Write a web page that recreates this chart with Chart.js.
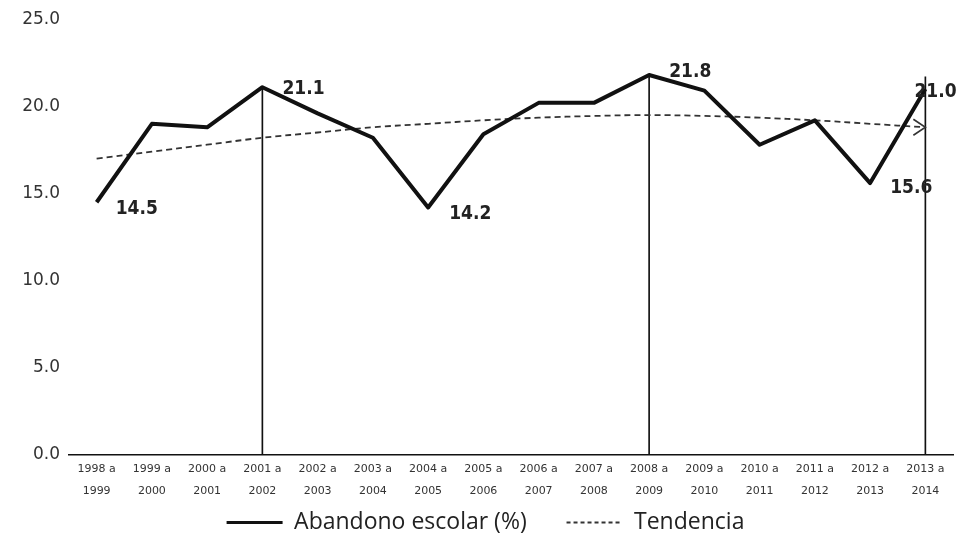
<!DOCTYPE html>
<html><head><meta charset="utf-8">
<script src="https://cdn.jsdelivr.net/npm/chart.js@4.4.1/dist/chart.umd.min.js"></script>
<style>html,body{margin:0;padding:0;background:#fff}#wrap{width:967px;height:534px}</style>
</head><body><div id="wrap"><canvas id="c" width="967" height="534"></canvas></div>
<script>
const categories = [['1998 a','1999'],['1999 a','2000'],['2000 a','2001'],['2001 a','2002'],['2002 a','2003'],['2003 a','2004'],['2004 a','2005'],['2005 a','2006'],['2006 a','2007'],['2007 a','2008'],['2008 a','2009'],['2009 a','2010'],['2010 a','2011'],['2011 a','2012'],['2012 a','2013'],['2013 a','2014']];
const abandono = [14.5,19.0,18.8,21.1,19.6,18.2,14.2,18.4,20.2,20.2,21.8,20.9,17.8,19.2,15.6,21.0];
const tendencia = [17.0,17.4,17.8,18.2,18.5,18.8,19.0,19.2,19.35,19.45,19.5,19.45,19.35,19.2,19.0,18.8];
const guideLines = [null,null,null,21.1,null,null,null,null,null,null,21.8,null,null,null,null,21.7];
const pointLabels = {0:'14.5',3:'21.1',6:'14.2',10:'21.8',14:'15.6',15:'21.0'};
const yTicks = [0,5,10,15,20,25];
const seriesNames = ['Abandono escolar (%)','Tendencia'];

const labelPlugin = {
  id:'labels',
  afterLayout(chart){
    const lg = chart.legend;
    if(lg){ lg.left += 9; lg.right += 9; lg.top += 2; lg.bottom += 2; }
  },
  afterDatasetsDraw(chart){
    const ctx = chart.ctx;
    const meta = chart.getDatasetMeta(1);
    ctx.save();
    ctx.fillStyle = '#222';
    ctx.font = 'bold 19px "DejaVu Sans Condensed", "DejaVu Sans", sans-serif';
    ctx.textBaseline = 'middle';
    const off = {0:[19,7],3:[20,2],6:[21,7],10:[20,-3],14:[20,5],15:[-11,3]};
    Object.keys(pointLabels).forEach(k=>{
      const p = meta.data[k];
      ctx.fillText(pointLabels[k], p.x+off[k][0], p.y+off[k][1]);
    });
    const tm = chart.getDatasetMeta(2);
    const last = tm.data[tm.data.length-1];
    ctx.strokeStyle='#333'; ctx.lineWidth=1.6;
    ctx.beginPath();
    ctx.moveTo(last.x-12,last.y-8); ctx.lineTo(last.x,last.y); ctx.lineTo(last.x-12,last.y+8);
    ctx.stroke();
    ctx.restore();
  }
};

new Chart(document.getElementById('c'),{
  data:{
    labels:categories,
    datasets:[
      {type:'bar',label:'guide',data:guideLines,backgroundColor:'#111',barThickness:1,order:3},
      {type:'line',label:seriesNames[0],data:abandono,borderColor:'#111',borderWidth:4,pointRadius:0,tension:0,borderJoinStyle:'round',order:1},
      {type:'line',label:seriesNames[1],data:tendencia,borderColor:'#333',borderWidth:1.8,borderDash:[6,4],pointRadius:0,tension:0.4,order:2}
    ]
  },
  options:{
    responsive:false,animation:false,
    layout:{padding:{top:17,right:14,left:0,bottom:-8}},
    plugins:{
      tooltip:{enabled:false},
      legend:{position:'bottom',
        labels:{usePointStyle:true,pointStyle:'line',pointStyleWidth:56,
          color:'#222',font:{family:'"Open Sans", sans-serif',size:23},padding:4,
          generateLabels(chart){
            const ds=chart.data.datasets;
            return [1,2].map(i=>({text:i===1?ds[i].label+'      ':ds[i].label,strokeStyle:ds[i].borderColor,fillStyle:ds[i].borderColor,lineWidth:i===1?3:1.8,lineDash:i===2?[4,3]:[],pointStyle:'line',datasetIndex:i,fontColor:'#222'}));
          }}}
    },
    scales:{
      x:{grid:{display:false,drawTicks:false},border:{display:true,color:'#111',width:1.5},
        afterFit(s){s.height=50;},
        ticks:{color:'#333',font:{family:'"DejaVu Sans", sans-serif',size:11,lineHeight:2},padding:3,maxRotation:0,autoSkip:false}},
      y:{min:0,max:25,grid:{display:false,drawTicks:false},border:{display:false},
        afterFit(s){s.width=69;},
        afterBuildTicks(s){s.ticks=yTicks.map(v=>({value:v}));},
        ticks:{color:'#333',font:{family:'"DejaVu Sans", sans-serif',size:17},padding:9,callback:v=>v.toFixed(1)}}
    }
  },
  plugins:[labelPlugin]
});
</script></body></html>
